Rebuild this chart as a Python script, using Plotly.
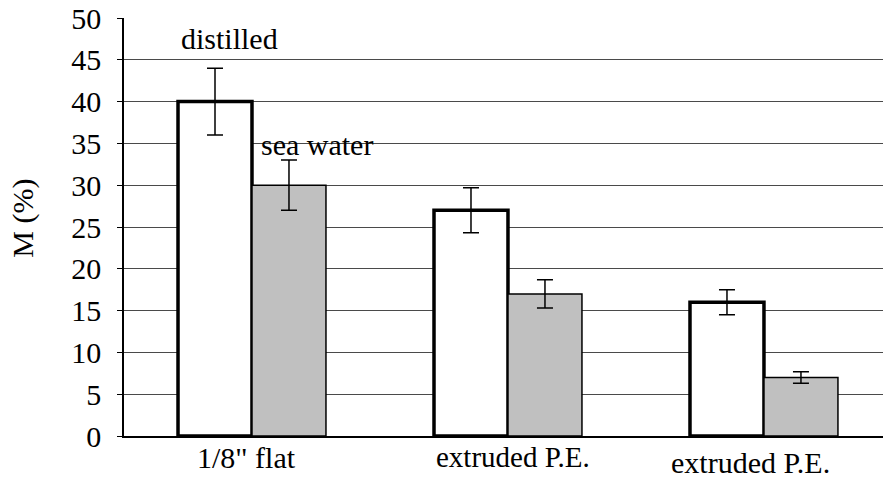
import plotly.graph_objects as go

# Moisture uptake M (%) for three specimen types
categories = ['1/8" flat', "extruded P.E.", "extruded P.E."]
distilled = [40, 27, 16]
distilled_err = [4.0, 2.7, 1.5]
sea_water = [30, 17, 7]
sea_water_err = [3.0, 1.7, 0.7]
y_ticks = [0, 5, 10, 15, 20, 25, 30, 35, 40, 45, 50]

FONT = "Liberation Serif"
x_pos = list(range(len(categories)))

fig = go.Figure()
fig.add_trace(go.Bar(
    x=x_pos, y=distilled, name="distilled",
    marker=dict(color="white", line=dict(color="black", width=3.5)),
    error_y=dict(type="data", array=distilled_err, color="black", thickness=1.5, width=8),
))
fig.add_trace(go.Bar(
    x=x_pos, y=sea_water, name="sea water",
    marker=dict(color="#c0c0c0", line=dict(color="black", width=1.5)),
    error_y=dict(type="data", array=sea_water_err, color="black", thickness=1.5, width=8),
))

# category labels under each group: (x shift, y shift, font size)
label_style = [(-5, 0, 30), (5, 0, 29), (-13, -5, 30)]
for i, (lab, (dx, dy, fs)) in enumerate(zip(categories, label_style)):
    fig.add_annotation(x=i, y=0, xref="x", yref="paper", text=lab, showarrow=False,
                       yanchor="top", yshift=-3 + dy, xshift=dx,
                       font=dict(family=FONT, size=fs, color="black"))

# series labels placed beside the first group
fig.add_annotation(x=-0.086, y=47.6, xref="x", yref="y", text="distilled", showarrow=False,
                   font=dict(family=FONT, size=30, color="black"))
fig.add_annotation(x=0.254, y=34.9, xref="x", yref="y", text="sea water", showarrow=False,
                   font=dict(family=FONT, size=30, color="black"))

# y-axis title
fig.add_annotation(x=-101 / 759, y=0.52, xref="paper", yref="paper", text="M (%)",
                   textangle=-90, showarrow=False, xanchor="center", yanchor="middle",
                   font=dict(family=FONT, size=30, color="black"))

fig.update_layout(
    width=883, height=487,
    margin=dict(l=124, r=0, t=18, b=51),
    paper_bgcolor="white", plot_bgcolor="white",
    barmode="group", bargap=0.422, bargroupgap=0,
    showlegend=False,
)
fig.update_xaxes(range=[-0.5, 2.465], showticklabels=False, showgrid=False,
                 zeroline=False, showline=True, linecolor="black", linewidth=1.5, ticks="")
fig.update_yaxes(range=[0, 50], tickvals=y_ticks, showgrid=True, gridcolor="#4a4a4a",
                 gridwidth=1, zeroline=False, showline=True, linecolor="black", linewidth=1.5,
                 ticks="outside", ticklen=5, tickcolor="black", ticklabelstandoff=10,
                 tickfont=dict(family=FONT, size=30, color="black"))

fig.write_html("out.html")
